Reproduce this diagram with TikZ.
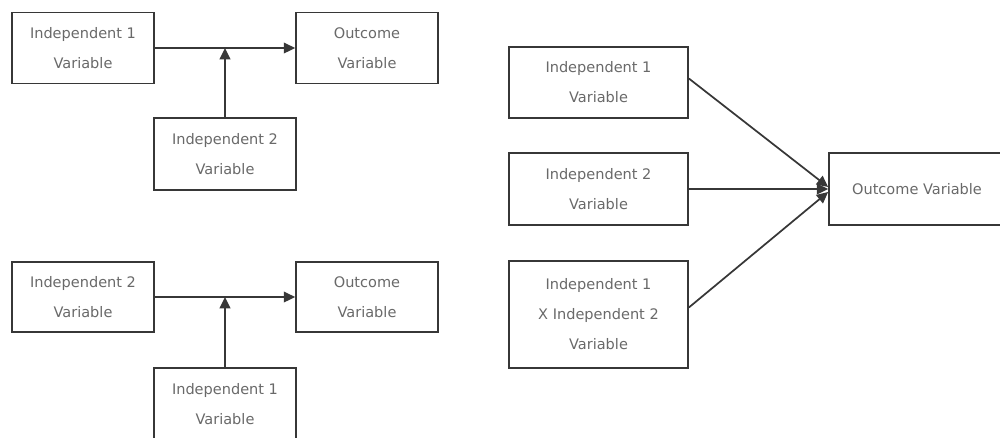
\documentclass[tikz,border=0pt]{standalone}
\usepackage{fontspec}
\setmainfont{DejaVu Sans}
\usetikzlibrary{arrows.meta,calc}
\definecolor{edgec}{RGB}{55,55,55}
\definecolor{textc}{RGB}{105,105,105}
\begin{document}
\begin{tikzpicture}[x=0.75pt,y=-0.75pt,
  varbox/.style 2 args={draw=edgec, line width=1.3pt, align=center, text=textc,
    font=\fontsize{10.9}{22.5}\selectfont, inner sep=0pt,
    minimum width=#1*0.75pt, minimum height=#2*0.75pt},
  link/.style={draw=edgec, line width=1.3pt, -{Triangle[length=8.5pt,width=8pt]}}]
\useasboundingbox (0,0) rectangle (1000,437);

% moderation model: variable 2 moderates the effect of variable 1
\node[varbox={142}{71}] (ta) at (83,48) {Independent 1\\Variable};
\node[varbox={142}{71}] (to) at (367,48) {Outcome\\Variable};
\node[varbox={142}{72}] (tb) at (225,154) {Independent 2\\Variable};
\draw[link] (ta) -- (to);
\draw[link] (tb.north) -- (tb.north |- ta.east);

% moderation model with the roles exchanged
\node[varbox={142}{70}] (ba) at (83,297) {Independent 2\\Variable};
\node[varbox={142}{70}] (bo) at (367,297) {Outcome\\Variable};
\node[varbox={142}{72}] (bb) at (225,404) {Independent 1\\Variable};
\draw[link] (ba) -- (bo);
\draw[link] (bb.north) -- (bb.north |- ba.east);

% regression model with an interaction term
\node[varbox={179}{71}] (r1) at (598.5,82.5) {Independent 1\\Variable};
\node[varbox={179}{72}] (r2) at (598.5,189) {Independent 2\\Variable};
\node[varbox={179}{107}] (r3) at (598.5,314.5) {Independent 1\\X Independent 2\\Variable};
\node[varbox={176}{72}] (ro) at (917,189) {Outcome Variable};
\draw[link] ($(r1.east)+(0,-4)$) -- ($(ro.west)+(0,-2)$);
\draw[link] (r2) -- (ro);
\draw[link] ($(r3.east)+(0,-7)$) -- ($(ro.west)+(0,3)$);
\end{tikzpicture}
\end{document}
